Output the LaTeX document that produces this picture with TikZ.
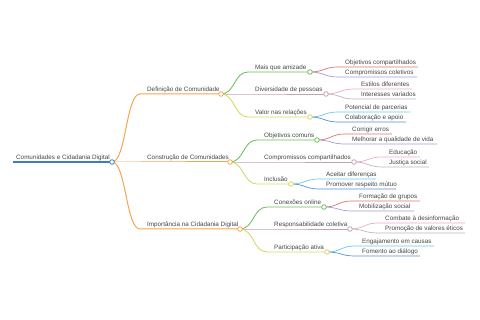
\documentclass[tikz,border=0pt]{standalone}
\usepackage{fontspec}
\setmainfont{Liberation Sans}
\usetikzlibrary{calc}
\definecolor{txt}{HTML}{444444}
\definecolor{cRoot}{HTML}{3B7DBF}
\definecolor{cOr}{HTML}{F5A550}
\definecolor{cGr}{HTML}{6CBF5C}
\definecolor{cMa}{HTML}{C4A2B4}
\definecolor{cYe}{HTML}{D6D664}
\definecolor{cRe}{HTML}{E07272}
\definecolor{cPu}{HTML}{A59AD8}
\definecolor{cPi}{HTML}{F0A8C8}
\definecolor{cGy}{HTML}{B8B8C2}
\definecolor{cCy}{HTML}{66CCE0}
\definecolor{cBl}{HTML}{5590D0}
\tikzset{
  lbl/.style={font=\fontsize{6.3}{7}\selectfont, text=txt, inner sep=0pt, anchor=base west},
  dot/.style={circle, fill=white, inner sep=0pt, minimum size=4.6pt, line width=0.8pt},
}
% #1 name, #2 parent, #3 x start, #4 x end, #5 y, #6 colour, #7 width, #8 text
\newcommand\mmbr[8]{%
  \coordinate (#1-s) at (#3,#5);
  \coordinate (#1-e) at (#4,#5);
  \draw[draw=#6, line width=#7] (#2-e) .. controls +(14,0) and +(-14,0) .. (#1-s) -- (#1-e);
  \node[lbl] (#1) at ($(#1-s)+(7,-2.5)$) {#8};
}
\newcommand\mmdot[2]{\node[dot, draw=#2] (#1-c) at (#1-e) {};}
\begin{document}
\begin{tikzpicture}[x=1pt,y=-1pt]
\useasboundingbox (0,0) rectangle (480,320);
% root
\coordinate (R-s) at (13,162);
\coordinate (R-e) at (112,162);
\draw[cRoot, line width=1.4pt] (R-s) -- (R-e);
\node[lbl] (R) at (16,159.5) {Comunidades e Cidadania Digital};
% level 1
\mmbr{A}{R}{140}{221}{94}{cOr}{1pt}{Definição de Comunidade}
\mmbr{B}{R}{140}{230}{162}{cOr}{1pt}{Construção de Comunidades}
\mmbr{C}{R}{140}{240}{229}{cOr}{1pt}{Importância na Cidadania Digital}
% level 2
\mmbr{A1}{A}{248}{310}{72}{cGr}{0.85pt}{Mais que amizade}
\mmbr{A2}{A}{248}{326}{94}{cMa}{0.85pt}{Diversidade de pessoas}
\mmbr{A3}{A}{248}{310}{117}{cYe}{0.85pt}{Valor nas relações}
\mmbr{B1}{B}{257}{317}{140}{cGr}{0.85pt}{Objetivos comuns}
\mmbr{B2}{B}{257}{354}{162}{cMa}{0.85pt}{Compromissos compartilhados}
\mmbr{B3}{B}{257}{291}{184}{cYe}{0.85pt}{Inclusão}
\mmbr{C1}{C}{267}{324}{207}{cGr}{0.85pt}{Conexões online}
\mmbr{C2}{C}{267}{350}{229}{cMa}{0.85pt}{Responsabilidade coletiva}
\mmbr{C3}{C}{267}{327}{252}{cYe}{0.85pt}{Participação ativa}
% level 3
\mmbr{A11}{A1}{338}{418}{67}{cRe}{0.7pt}{Objetivos compartilhados}
\mmbr{A12}{A1}{338}{417}{77}{cPu}{0.7pt}{Compromissos coletivos}
\mmbr{A21}{A2}{354}{412}{89}{cPi}{0.7pt}{Estilos diferentes}
\mmbr{A22}{A2}{354}{416}{99}{cGy}{0.7pt}{Interesses variados}
\mmbr{A31}{A3}{338}{410}{112}{cCy}{0.7pt}{Potencial de parcerias}
\mmbr{A32}{A3}{338}{406}{122}{cBl}{0.7pt}{Colaboração e apoio}
\mmbr{B11}{B1}{345}{392}{134}{cRe}{0.7pt}{Corrigir erros}
\mmbr{B12}{B1}{345}{437}{144}{cPu}{0.7pt}{Melhorar a qualidade de vida}
\mmbr{B21}{B2}{382}{420}{157}{cPi}{0.7pt}{Educação}
\mmbr{B22}{B2}{382}{429}{167}{cGy}{0.7pt}{Justiça social}
\mmbr{B31}{B3}{319}{376}{179}{cCy}{0.7pt}{Aceitar diferenças}
\mmbr{B32}{B3}{319}{396}{189}{cBl}{0.7pt}{Promover respeito mútuo}
\mmbr{C11}{C1}{352}{420}{201}{cRe}{0.7pt}{Formação de grupos}
\mmbr{C12}{C1}{352}{414}{211}{cPu}{0.7pt}{Mobilização social}
\mmbr{C21}{C2}{378}{465}{223}{cPi}{0.7pt}{Combate à desinformação}
\mmbr{C22}{C2}{378}{465}{233}{cGy}{0.7pt}{Promoção de valores éticos}
\mmbr{C31}{C3}{355}{434}{246}{cCy}{0.7pt}{Engajamento em causas}
\mmbr{C32}{C3}{355}{420}{256}{cBl}{0.7pt}{Fomento ao diálogo}
% circles
\mmdot{R}{cRoot}
\mmdot{A}{cOr}\mmdot{B}{cOr}\mmdot{C}{cOr}
\mmdot{A1}{cGr}\mmdot{A2}{cMa}\mmdot{A3}{cYe}
\mmdot{B1}{cGr}\mmdot{B2}{cMa}\mmdot{B3}{cYe}
\mmdot{C1}{cGr}\mmdot{C2}{cMa}\mmdot{C3}{cYe}
\end{tikzpicture}
\end{document}
